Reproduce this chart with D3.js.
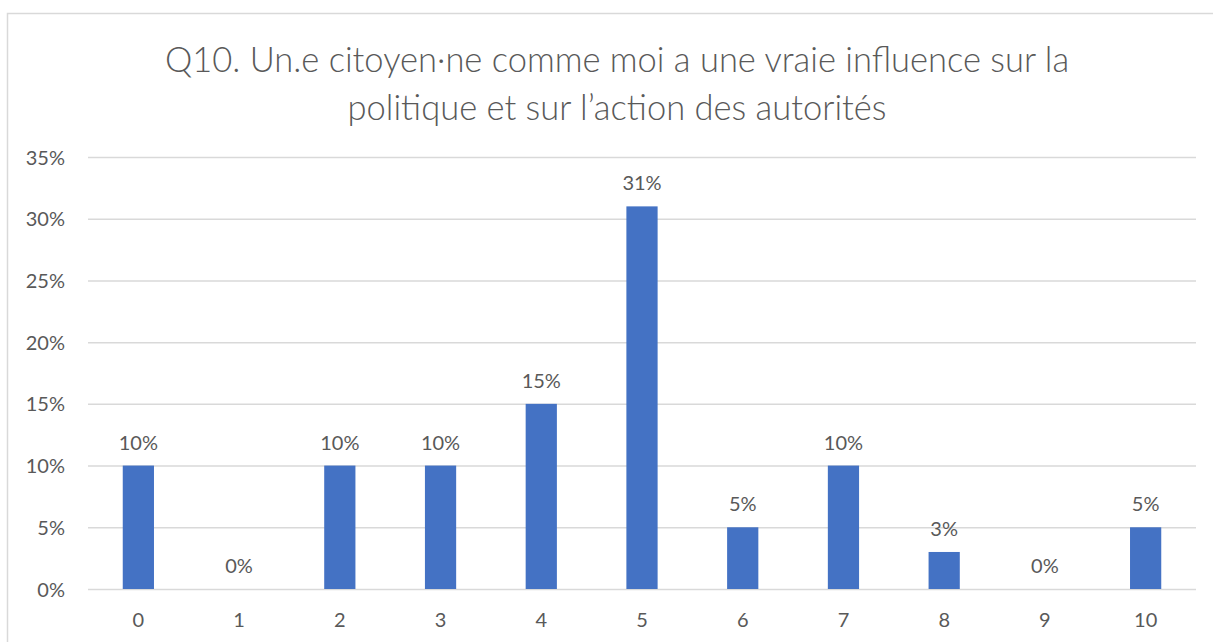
<!DOCTYPE html>
<html><head><meta charset="utf-8">
<script src="https://cdn.jsdelivr.net/npm/d3@7"></script>
<style>
html,body{margin:0;padding:0;background:#fff;}
svg{display:block;}
text{font-family:Lato,"Open Sans",sans-serif;fill:#595959;}
</style></head>
<body>
<svg id="c" width="1213" height="642"></svg>
<script>
const categories = ["0","1","2","3","4","5","6","7","8","9","10"];
const values = [0.10,0.00,0.10,0.10,0.15,0.31,0.05,0.10,0.03,0.00,0.05];
const yTicks = [0,0.05,0.10,0.15,0.20,0.25,0.30,0.35];
const titleLines = ["Q10. Un.e citoyen·ne comme moi a une vraie influence sur la","politique et sur l\u2019action des autorités"];

const svg = d3.select("#c");
const W = 1213, H = 642;
svg.append("rect").attr("x",7.5).attr("y",13.5).attr("width",W).attr("height",H)
  .attr("fill","#fff").attr("stroke","#d9d9d9").attr("stroke-width",1.5);

const m = {left:88, right:1196, top:157, bottom:589};
const x = d3.scaleBand().domain(categories).range([m.left,m.right]).paddingInner(0.69).paddingOuter(0.345);
const y = d3.scaleLinear().domain([0,0.35]).range([m.bottom,m.top]);

svg.selectAll(".title").data(titleLines).enter().append("text")
  .attr("x",617).attr("y",(d,i)=>72+i*48).attr("text-anchor","middle")
  .style("font-size","34.5px").style("font-weight","300").text(d=>d);

const yAxis = d3.axisLeft(y).tickValues(yTicks).tickFormat(d3.format(".0%")).tickSize(-(m.right-m.left)).tickPadding(23);
const gy = svg.append("g").attr("transform",`translate(${m.left},0)`).call(yAxis);
gy.select(".domain").remove();
gy.selectAll(".tick line").attr("stroke","#d9d9d9").attr("stroke-width",1.5);
gy.selectAll(".tick text").style("font-size","20px").attr("fill","#595959").attr("dy","0.35em");

const xAxis = d3.axisBottom(x).tickSize(0).tickPadding(31);
const gx = svg.append("g").attr("transform",`translate(0,${m.bottom})`).call(xAxis);
gx.select(".domain").remove();
gx.selectAll(".tick text").style("font-size","20px").attr("fill","#595959").attr("dy","0.35em");

svg.selectAll(".bar").data(values).enter().append("rect")
  .attr("x",(d,i)=>x(categories[i])).attr("width",x.bandwidth())
  .attr("y",d=>y(d)).attr("height",d=>y(0)-y(d)).attr("fill","#4472c4");

svg.selectAll(".lbl").data(values).enter().append("text")
  .attr("x",(d,i)=>x(categories[i])+x.bandwidth()/2).attr("y",d=>y(d)-16)
  .attr("text-anchor","middle").style("font-size","20px")
  .text(d=>d3.format(".0%")(d));
</script>
</body></html>
